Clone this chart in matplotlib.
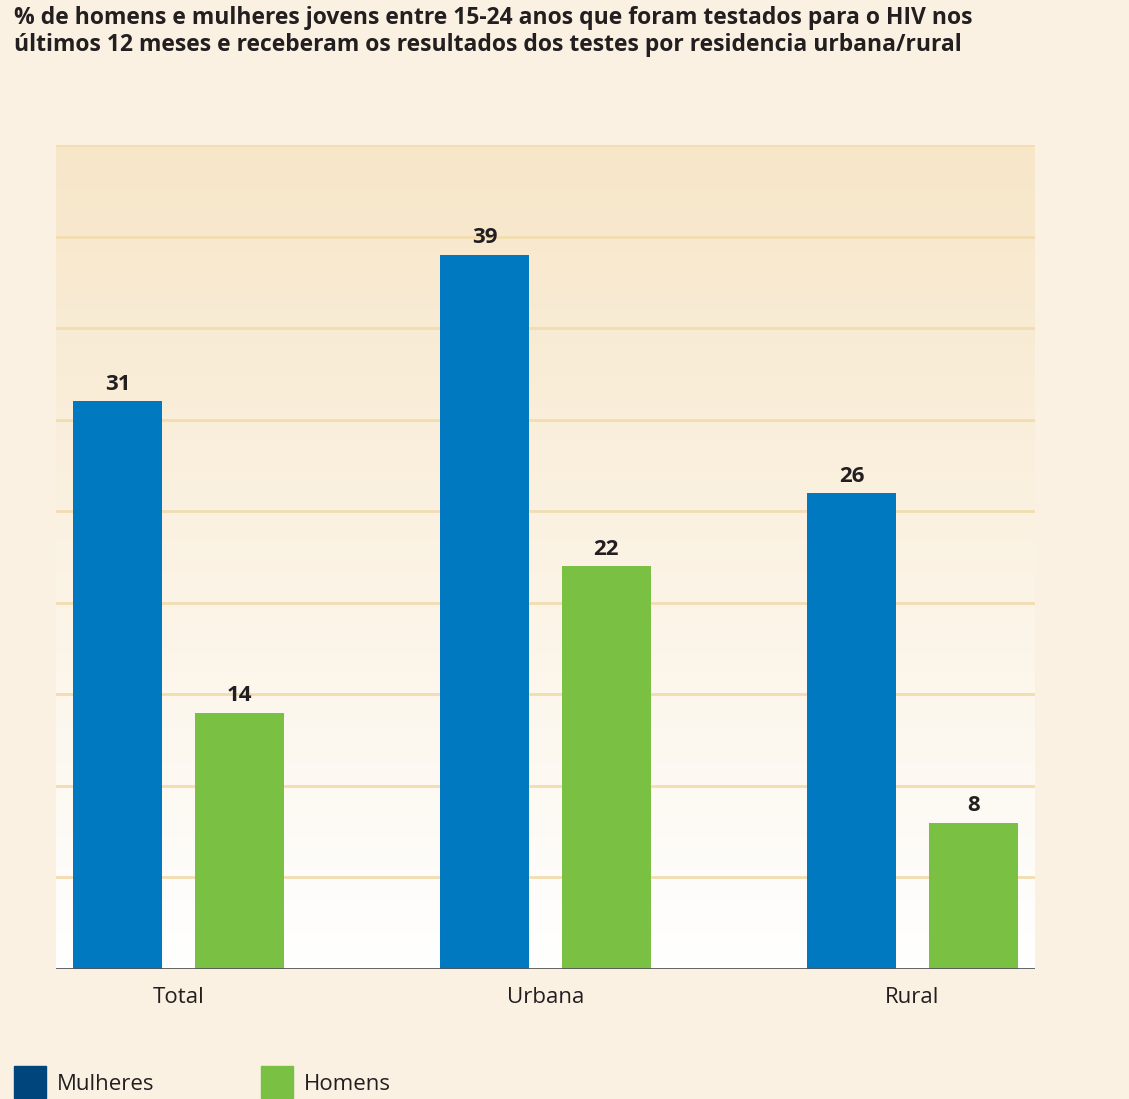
import numpy as np
import matplotlib.pyplot as plt
from matplotlib.patches import Rectangle

# ---------- data ----------
categories = ["Total", "Urbana", "Rural"]
mulheres = [31, 39, 26]
homens = [14, 22, 8]
series_names = ["Mulheres", "Homens"]

title = ("% de homens e mulheres jovens entre 15-24 anos que foram testados para o HIV nos\n"
         "últimos 12 meses e receberam os resultados dos testes por residencia urbana/rural")

# ---------- style ----------
bg = "#FAF1E2"
blue = "#0079C1"
blue_legend = "#00457C"
green = "#7AC143"
grid_c = "#F3DDB0"
text_c = "#231F20"
plt.rcParams['font.family'] = ['Open Sans', 'DejaVu Sans']

fig = plt.figure(figsize=(11.29, 10.99), dpi=100, facecolor=bg)
ax = fig.add_axes([56 / 1129, 130 / 1099, 979 / 1129, 824 / 1099])
ax.set_facecolor(bg)

ymax = 45
x = np.arange(len(categories))
w = 0.2425
off = 0.166
ax.set_xlim(-0.334, 2.334)
ax.set_ylim(0, ymax)

# gradient background
grad = np.linspace(0, 1, 256).reshape(-1, 1)
top = np.array([247, 230, 200]) / 255
bot = np.array([255, 255, 255]) / 255
img = bot + (top - bot) * grad
ax.imshow(img[:, None, :].repeat(2, axis=1), extent=[-0.334, 2.334, 0, ymax],
          origin="lower", aspect="auto", zorder=0)

for yv in range(5, ymax + 1, 5):
    ax.axhline(yv, color=grid_c, lw=2, zorder=1)

b1 = ax.bar(x - off, mulheres, w, color=blue, zorder=2)
b2 = ax.bar(x + off, homens, w, color=green, zorder=2)

for bars in (b1, b2):
    for r in bars:
        ax.text(r.get_x() + r.get_width() / 2, r.get_height() + 0.35, f"{r.get_height():.0f}",
                ha="center", va="bottom", fontsize=16, fontweight="bold", color=text_c)

ax.axhline(0, color="#555555", lw=2, zorder=3)
for s in ax.spines.values():
    s.set_visible(False)
ax.set_yticks([])
ax.set_xticks(x)
ax.set_xticklabels(categories, fontsize=16, color=text_c)
ax.tick_params(axis="x", length=0, pad=13)

fig.text(14 / 1129, 1 - 6 / 1099, title, ha="left", va="top", fontsize=16.5,
         fontweight="bold", color=text_c, linespacing=1.15)

# legend
for i, (name, c) in enumerate(zip(series_names, [blue_legend, green])):
    x0 = (14 + i * 247) / 1129
    fig.patches.append(Rectangle((x0, 1 / 1099), 32 / 1129, 32 / 1099, transform=fig.transFigure,
                                 color=c))
    fig.text(x0 + 43 / 1129, 15 / 1099, name, ha="left", va="center", fontsize=16, color=text_c)

fig.savefig("out.png", dpi=100, facecolor=bg)
